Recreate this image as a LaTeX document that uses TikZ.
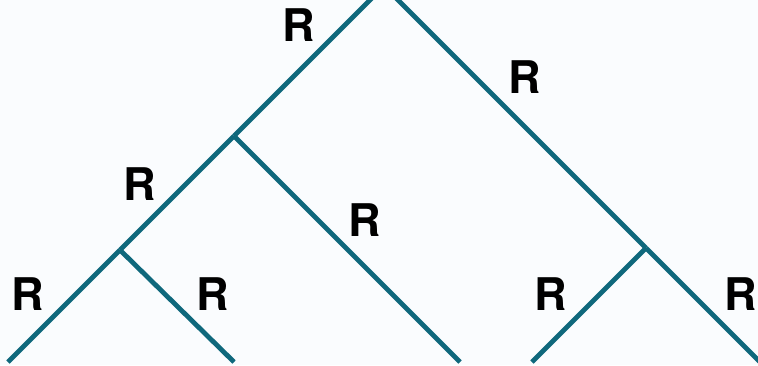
\documentclass[tikz,border=0pt]{standalone}
\usepackage{fontspec}
\setmainfont{TeX Gyre Heros}
\usetikzlibrary{positioning}
\definecolor{treeteal}{HTML}{0F687C}
\definecolor{treebg}{HTML}{FAFCFE}
\tikzset{
  edge/.style={line width=2.4pt, treeteal},
  rlabel/.style={font=\fontsize{22.5}{26}\selectfont\bfseries, text=black, inner sep=0pt},
}

\begin{document}
\begin{tikzpicture}[x=0.5pt, y=-0.5pt]
    \fill[treebg] (0,0) rectangle (758,365);
    \useasboundingbox (0,0) rectangle (758,365);
    % tree vertices
    \coordinate (root) at (384,-14);
    \coordinate (a) at (234,136);
    \coordinate (b) at (120,250);
    \coordinate (c) at (646,248);
    \coordinate (bl) at (8,362);
    \coordinate (br) at (234,362);
    \coordinate (ar) at (460,362);
    \coordinate (cl) at (532,362);
    \coordinate (cr) at (760,362);
    % edges
    \draw[edge] (root) -- (a);
    \draw[edge] (a) -- (b);
    \draw[edge] (b) -- (bl);
    \draw[edge] (b) -- (br);
    \draw[edge] (a) -- (ar);
    \draw[edge] (root) -- (c);
    \draw[edge] (c) -- (cl);
    \draw[edge] (c) -- (cr);
    % labels
    \node[rlabel] (lroot) at (299,25) {R};
    \node[rlabel] (lc) at (525,77) {R};
    \node[rlabel] (la) at (140,184) {R};
    \node[rlabel] (lar) at (365,220) {R};
    \node[rlabel] (lbl) at (28,294) {R};
    \node[rlabel] (lbr) at (213,294) {R};
    \node[rlabel] (lcl) at (551,294) {R};
    \node[rlabel] (lcr) at (741,294) {R};
  \end{tikzpicture}
\end{document}
